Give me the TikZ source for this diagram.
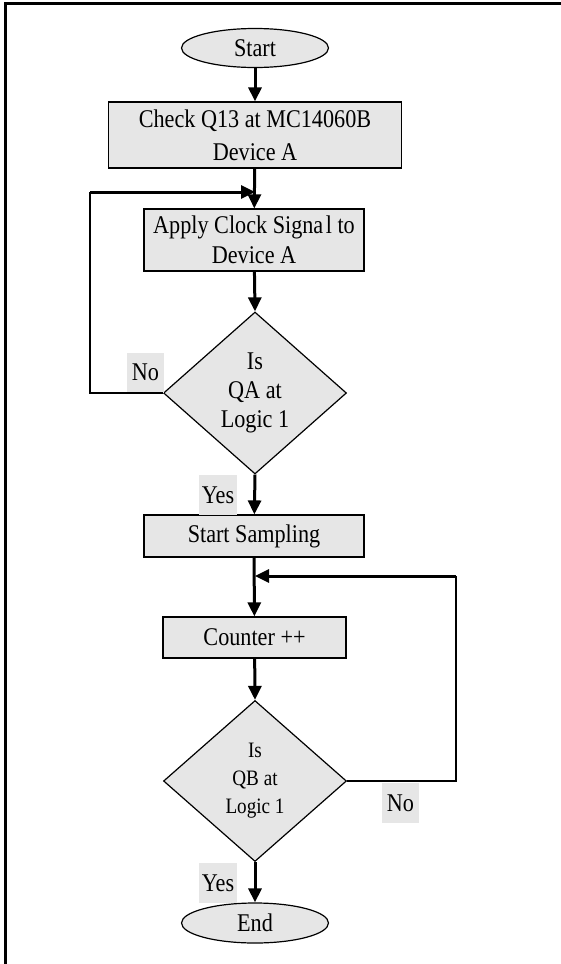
\documentclass[tikz,border=0pt]{standalone}
\usepackage{fontspec}
\setmainfont{Liberation Serif}[FakeStretch=0.87]
\usetikzlibrary{shapes.geometric,arrows.meta}
\definecolor{boxgray}{RGB}{230,230,230}
\begin{document}
\begin{tikzpicture}[x=1pt,y=-1pt,
  every node/.style={font=\fontsize{25.5pt}{30pt}\selectfont, inner sep=0pt, align=center},
  term/.style={ellipse, draw, line width=1.2pt, fill=boxgray, minimum width=147pt, minimum height=39pt},
  procbox/.style={rectangle, draw, line width=1.2pt, fill=boxgray},
  decide/.style={diamond, draw, line width=1.2pt, fill=boxgray, minimum width=183pt, minimum height=162pt},
  lbl/.style={rectangle, fill=boxgray, minimum width=37pt, minimum height=40pt},
  flow/.style={line width=3pt, -{Triangle[length=14pt,width=13pt]}},
  thinline/.style={line width=1.4pt},
]
\useasboundingbox (0,0) rectangle (561,964);
\draw[line width=3pt] (5.5,964) -- (5.5,3.5) -- (561,3.5);

\node[term] (start) at (255,48) {Start};
\node[procbox, minimum width=293pt, minimum height=66pt, font=\fontsize{25.5pt}{33pt}\selectfont] (box1) at (255,135) {Check Q13 at MC14060B\\Device A};
\node[procbox, minimum width=220pt, minimum height=62pt] (box2) at (254,240) {Apply Clock Signa\kern2.5pt l to\\Device A};
\node[decide, font=\fontsize{25.5pt}{29pt}\selectfont] (dia1) at (255,393) {Is\\QA at\\Logic 1};
\node[procbox, minimum width=220pt, minimum height=42pt] (box3) at (254,536) {Start Sampling};
\node[procbox, minimum width=183pt, minimum height=41pt] (counter) at (254.5,637.5) {Counter ++};
\node[decide, minimum height=161pt, font=\fontsize{22pt}{28pt}\selectfont] (dia2) at (255,781) {Is\\QB at\\Logic 1};
\node[term, minimum height=40pt] (end) at (255,923) {End};

\node[lbl] (no1) at (145.5,372.5) {No};
\node[lbl, minimum width=38pt] (yes1) at (218,495) {Yes};
\node[lbl] (no2) at (400.5,803) {No};
\node[lbl, minimum width=38pt] (yes2) at (218,883) {Yes};

\coordinate (j1) at (255,192);
\coordinate (c1a) at (90,393);
\coordinate (c1b) at (90,192);
\coordinate (j2) at (255,576);
\coordinate (c2a) at (456,781);
\coordinate (c2b) at (456,576);

\draw[flow] (start) -- (box1);
\draw[flow] (box1) -- (box2);
\draw[flow] (box2) -- (dia1.north);
\draw[thinline] (dia1.west) -- (c1a) -- (c1b);
\draw[flow] (c1b) -- (j1);
\draw[flow] (dia1.south) -- (box3);
\draw[flow] (box3) -- (counter);
\draw[thinline] (dia2.east) -- (c2a) -- (c2b);
\draw[flow] (c2b) -- (j2);
\draw[flow] (counter) -- (dia2.north);
\draw[flow] (dia2.south) -- (end);
\end{tikzpicture}
\end{document}
